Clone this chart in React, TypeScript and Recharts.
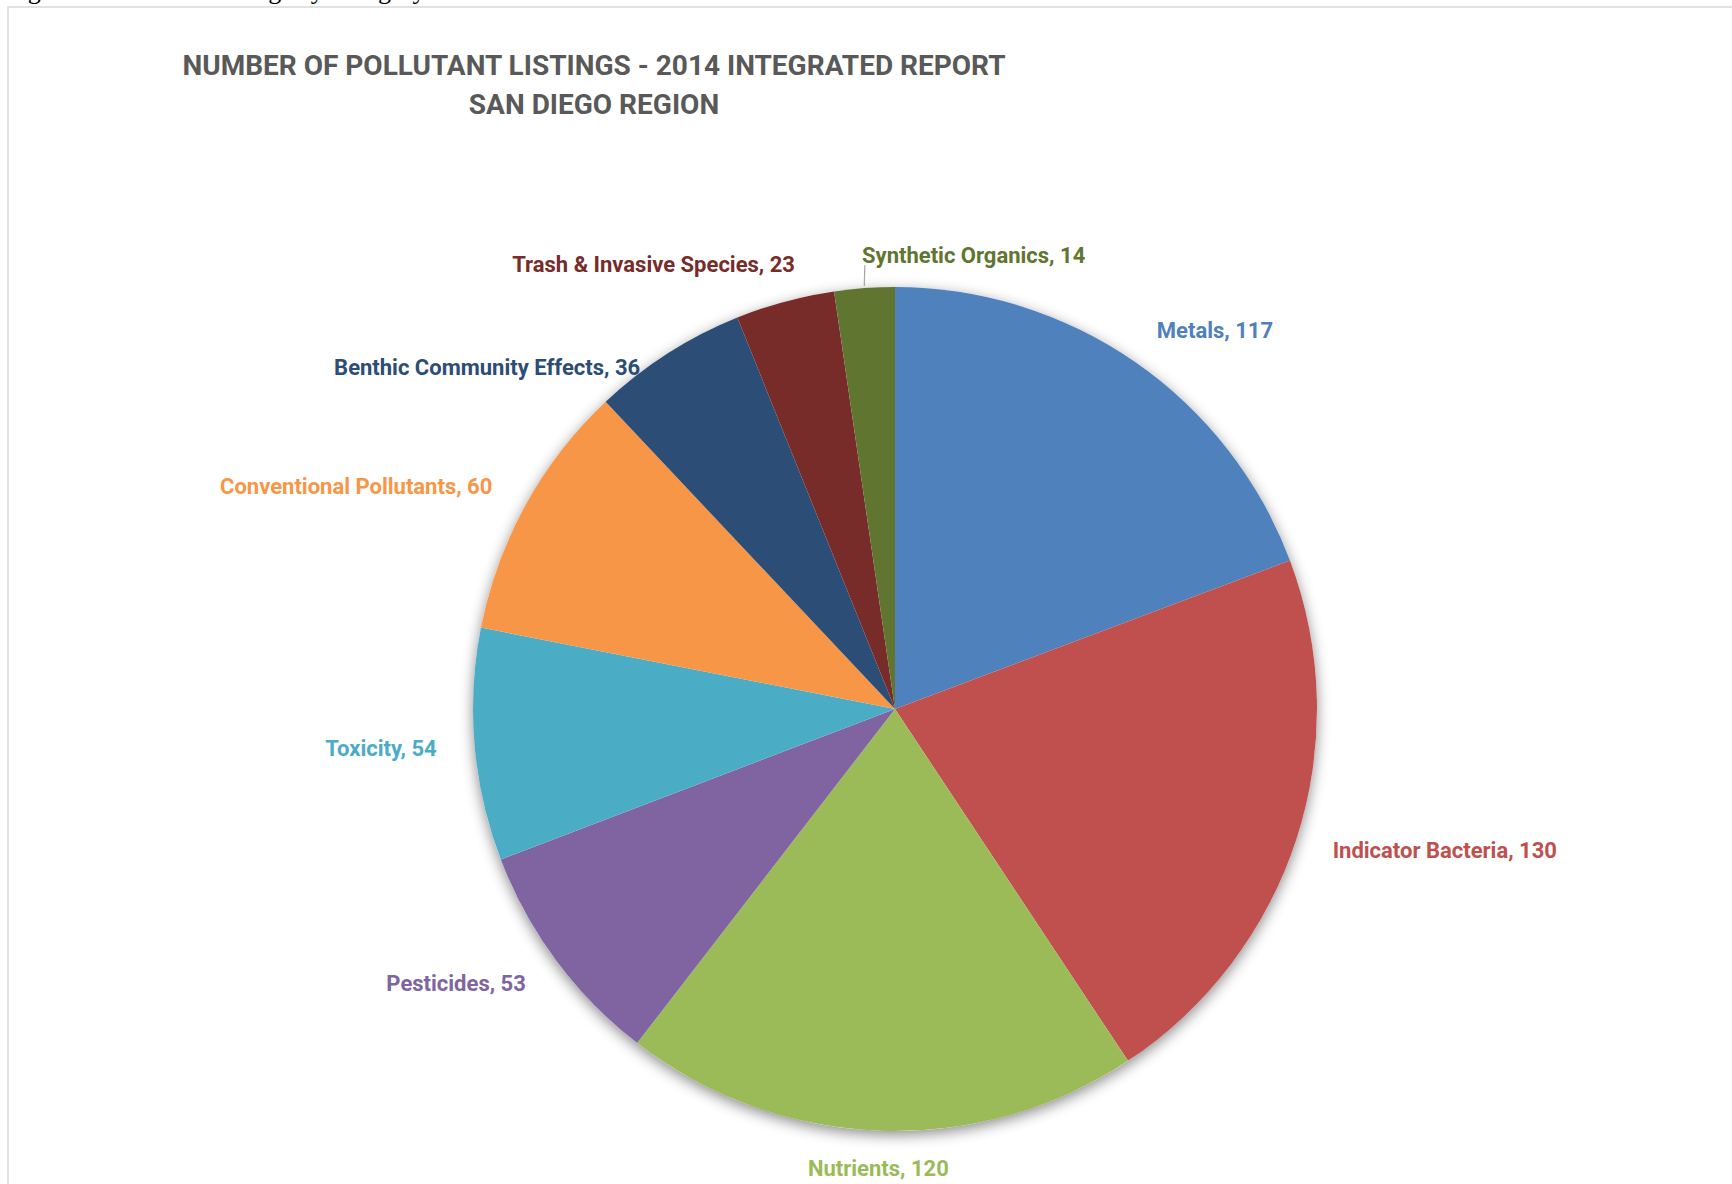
import { PieChart, Pie, Cell } from 'recharts';

// categories in drawing order (clockwise from 12 o'clock)
const CATEGORIES = [
  'Metals',
  'Indicator Bacteria',
  'Nutrients',
  'Pesticides',
  'Toxicity',
  'Conventional Pollutants',
  'Benthic Community Effects',
  'Trash & Invasive Species',
  'Synthetic Organics',
];
const LISTINGS = [117, 130, 120, 53, 54, 60, 36, 23, 14];

// Excel 2010 office palette
const COLORS = ['#4F81BD', '#C0504D', '#9BBB59', '#8064A2', '#4BACC6', '#F79646', '#2C4D75', '#772C2A', '#5F7530'];

const TITLE_LINES = ['NUMBER OF POLLUTANT LISTINGS - 2014 INTEGRATED REPORT', 'SAN DIEGO REGION'];
const CAPTION = 'Figure 1: Pollutant Listings by Category';

const data = CATEGORIES.map((name, i) => ({ name, value: LISTINGS[i] }));
const FONT = "'Roboto', sans-serif";
const RAD = Math.PI / 180;

// a few labels were moved by hand in the original
const LABEL_TWEAKS: Record<string, { r?: number; dx?: number; anchor?: string; leader?: boolean }> = {
  'Benthic Community Effects': { r: 406, dx: -36 },
  'Trash & Invasive Species': { dx: 20 },
  'Synthetic Organics': { r: 455, anchor: 'start', leader: true },
};

function renderLabel(props: any) {
  const { cx, cy, midAngle, outerRadius, name, value, index } = props;
  const tw = LABEL_TWEAKS[name] ?? {};
  const r = tw.r ?? outerRadius + 38;
  const cos = Math.cos(-midAngle * RAD);
  const sin = Math.sin(-midAngle * RAD);
  const x = cx + r * cos + (tw.dx ?? 0);
  const y = cy + r * sin;
  const anchor = tw.anchor ?? (Math.abs(cos) < 0.1 ? 'middle' : cos > 0 ? 'start' : 'end');
  return (
    <g key={`lbl-${index}`}>
      {tw.leader && (
        <line
          x1={cx + (outerRadius + 2) * cos}
          y1={cy + (outerRadius + 2) * sin}
          x2={cx + (r - 10) * cos + 2}
          y2={cy + (r - 10) * sin}
          stroke="#a6a6a6"
          strokeWidth={1.2}
        />
      )}
      <text
        x={x}
        y={y}
        textAnchor={anchor}
        dominantBaseline="central"
        fill={COLORS[index % COLORS.length]}
        fontFamily={FONT}
        fontWeight="bold"
        fontSize={22}
      >
        {`${name}, ${value}`}
      </text>
    </g>
  );
}

export default function App() {
  return (
    <div style={{ position: 'fixed', left: 0, top: 0, width: 1732, height: 1184, background: '#fff', overflow: 'hidden' }}>
      <svg width={1732} height={1184} style={{ position: 'absolute', left: 0, top: 0 }}>
        <text x={6} y={-1} fontFamily="'Liberation Serif', serif" fontSize={26} fill="#000">
          {CAPTION}
        </text>
        <rect x={8} y={7} width={1740} height={1200} fill="none" stroke="#d9d9d9" strokeWidth={1.5} />
        {TITLE_LINES.map((t, i) => (
          <text
            key={t}
            x={594}
            y={65 + i * 39}
            textAnchor="middle"
            dominantBaseline="central"
            fontFamily={FONT}
            fontWeight="bold"
            fontSize={28}
            fill="#595959"
          >
            {t}
          </text>
        ))}
      </svg>
      <div style={{ position: 'absolute', left: 0, top: 0 }}>
        <PieChart width={1732} height={1184} margin={{ top: 0, right: 0, bottom: 0, left: 0 }}>
          {/* backing disc that carries the soft shadow */}
          <Pie
            data={[{ name: 'shadow', value: 1 }]}
            dataKey="value"
            cx={895}
            cy={709}
            outerRadius={422}
            startAngle={90}
            endAngle={-270}
            stroke="none"
            isAnimationActive={false}
            style={{ filter: 'drop-shadow(0px 4px 7px rgba(0,0,0,0.45))' }}
          >
            <Cell fill="#ffffff" stroke="none" />
          </Pie>
          <Pie
            data={data}
            dataKey="value"
            nameKey="name"
            cx={895}
            cy={709}
            outerRadius={422}
            startAngle={90}
            endAngle={-270}
            label={renderLabel}
            labelLine={false}
            isAnimationActive={false}
          >
            {data.map((_, idx) => (
              <Cell key={idx} fill={COLORS[idx % COLORS.length]} stroke="none" />
            ))}
          </Pie>
        </PieChart>
      </div>
    </div>
  );
}
